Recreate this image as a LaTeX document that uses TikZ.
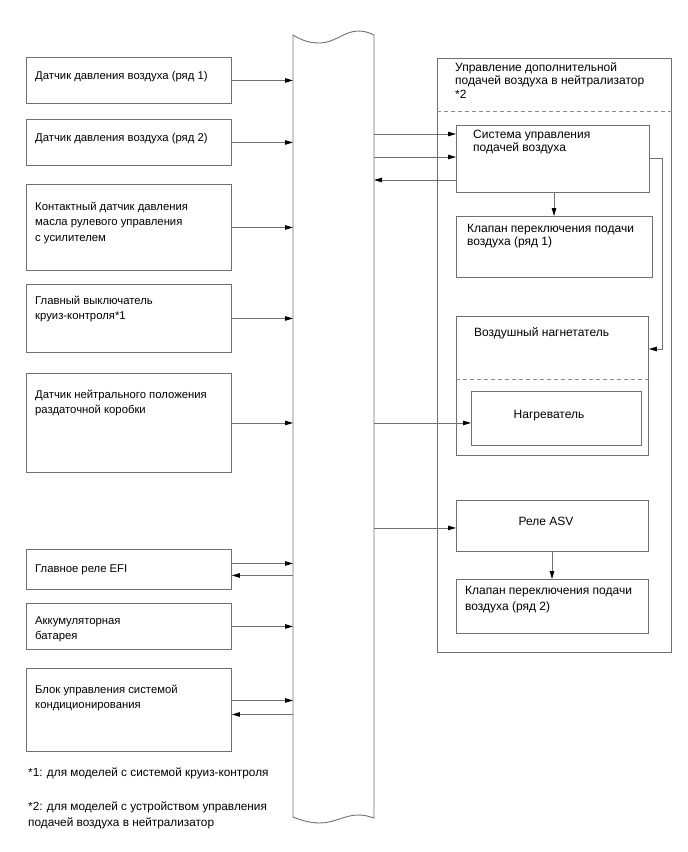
\documentclass[tikz,border=0pt]{standalone}
\usepackage{fontspec}
\setmainfont{Liberation Sans}
\usetikzlibrary{arrows.meta,calc}
\definecolor{ln}{HTML}{707070}
\definecolor{dl}{HTML}{8C8C8C}
\tikzset{
  box/.style={draw=ln,line width=0.9pt,rectangle,inner sep=0pt,anchor=north west},
  txt/.style={anchor=base west,inner sep=0pt,align=left,font=\fontsize{11.3}{15.5}\selectfont},
  rtxt/.style={anchor=base west,inner sep=0pt,align=left,font=\fontsize{12}{13.8}\selectfont},
  ctxt/.style={anchor=base,inner sep=0pt,font=\fontsize{12}{14}\selectfont},
  arr/.style={draw=ln,line width=0.9pt,-{Triangle[length=8pt,width=4.5pt,color=black]}},
  dsh/.style={draw=dl,line width=0.9pt,dash pattern=on 4pt off 3pt},
}
\begin{document}
\begin{tikzpicture}[x=1pt,y=-1pt]
\useasboundingbox (0,0) rectangle (688,852);
% central bar
\coordinate (barL) at (293,0);
\coordinate (barR) at (374,0);
\draw[ln,line width=0.9pt] (293,35) .. controls (303,41) and (310,43) .. (320,43)
  .. controls (334,43) and (345,31) .. (358,31) .. controls (365,31) and (370,33) .. (374,35)
  -- (374,818) .. controls (368,816) and (364,815) .. (358,815)
  .. controls (345,815) and (334,823) .. (320,823) .. controls (310,823) and (300,820) .. (293,817) -- cycle;
% left boxes (multi-line text nodes are placed by the baseline of their last line)
\node[box,minimum width=205pt,minimum height=46pt] (b1) at (26,57) {};
\node[txt] (t1) at (35,79) {Датчик давления воздуха (ряд 1)};
\node[box,minimum width=205pt,minimum height=46pt] (b2) at (26,119) {};
\node[txt] (t2) at (35,141) {Датчик давления воздуха (ряд 2)};
\node[box,minimum width=205pt,minimum height=86pt] (b3) at (26,184) {};
\node[txt] (t3) at (35,241) {Контактный датчик давления\\масла рулевого управления\\с усилителем};
\node[box,minimum width=205pt,minimum height=68pt] (b4) at (26,284) {};
\node[txt] (t4) at (35,319.5) {Главный выключатель\\круиз-контроля*1};
\node[box,minimum width=205pt,minimum height=99pt] (b5) at (26,373) {};
\node[txt] (t5) at (35,413.5) {Датчик нейтрального положения\\раздаточной коробки};
\node[box,minimum width=205pt,minimum height=40pt] (b6) at (26,549) {};
\node[txt] (t6) at (35,572) {Главное реле EFI};
\node[box,minimum width=205pt,minimum height=46pt] (b7) at (26,603) {};
\node[txt] (t7) at (35,639.5) {Аккумуляторная\\батарея};
\node[box,minimum width=205pt,minimum height=83pt] (b8) at (26,668) {};
\node[txt] (t8) at (35,708.5) {Блок управления системой\\кондиционирования};
% footnotes
\node[txt,font=\fontsize{11.8}{16}\selectfont] (f1) at (28,776) {*1: для моделей с системой круиз-контроля};
\node[txt,font=\fontsize{11.8}{16}\selectfont] (f2) at (28,826) {*2: для моделей с устройством управления\\подачей воздуха в нейтрализатор};
% left connectors
\draw[arr] (b1.east) -- (b1.east -| barL);
\draw[arr] (b2.east) -- (b2.east -| barL);
\draw[arr] (b3.east) -- (b3.east -| barL);
\draw[arr] (b4.east) -- (b4.east -| barL);
\draw[arr] (b5.east) -- (b5.east -| barL);
\draw[arr] ([yshift=6pt]b6.east) -- ([yshift=6pt]b6.east -| barL);
\draw[arr] ([yshift=-6pt]b6.east -| barL) -- ([yshift=-6pt]b6.east);
\draw[arr] (b7.east) -- (b7.east -| barL);
\draw[arr] ([yshift=9.5pt]b8.east) -- ([yshift=9.5pt]b8.east -| barL);
\draw[arr] ([yshift=-4.5pt]b8.east -| barL) -- ([yshift=-4.5pt]b8.east);
% right panel
\node[box,minimum width=234pt,minimum height=594pt] (pan) at (437,58) {};
\node[rtxt,font=\fontsize{12}{13.5}\selectfont] (pt) at (455,98) {Управление дополнительной\\подачей воздуха в нейтрализатор\\*2};
\draw[dsh] (pan.west |- 0,111) -- (pan.east |- 0,111);
\node[box,minimum width=193pt,minimum height=67pt] (sys) at (456,125) {};
\node[rtxt,font=\fontsize{12}{13.5}\selectfont] (st) at (473,151.5) {Система управления\\подачей воздуха};
\node[box,minimum width=196pt,minimum height=61pt] (k1) at (456,216) {};
\node[rtxt] (k1t) at (467,245.8) {Клапан переключения подачи\\воздуха (ряд 1)};
\node[box,minimum width=192pt,minimum height=139pt] (ng) at (456,316) {};
\node[rtxt] (ngt) at (474,336) {Воздушный нагнетатель};
\draw[dsh] (ng.west |- 0,379) -- (ng.east |- 0,379);
\node[box,minimum width=170pt,minimum height=54pt] (nr) at (471,391) {};
\node[ctxt] (nrt) at (549,418) {Нагреватель};
\node[box,minimum width=192pt,minimum height=51pt] (asv) at (456,500) {};
\node[ctxt] (asvt) at (546,525) {Реле ASV};
\node[box,minimum width=192pt,minimum height=54pt] (k2) at (456,579) {};
\node[rtxt,font=\fontsize{12}{16}\selectfont] (k2t) at (465,610) {Клапан переключения подачи\\воздуха (ряд 2)};
% right connectors
\draw[arr] ([yshift=-9pt]sys.north west -| barR) -- ([yshift=-9pt]sys.north west);
\draw[arr] ([yshift=-32pt]sys.north west -| barR) -- ([yshift=-32pt]sys.north west);
\draw[arr] ([yshift=-55pt]sys.north west) -- ([yshift=-55pt]sys.north west -| barR);
\coordinate (rx) at (662,0);
\draw[arr] ([yshift=-33pt]sys.north east) -- ([yshift=-33pt]sys.north east -| rx) |- ([yshift=-33pt]ng.north east);
\draw[arr] (sys.south -| 554,0) -- (k1.north -| 554,0);
\draw[arr] (b5.east -| barR) -- (b5.east -| nr.west);
\draw[arr] ([yshift=-2pt]asv.west -| barR) -- ([yshift=-2pt]asv.west);
\draw[arr] (asv.south -| 552,0) -- (k2.north -| 552,0);
\end{tikzpicture}
\end{document}
